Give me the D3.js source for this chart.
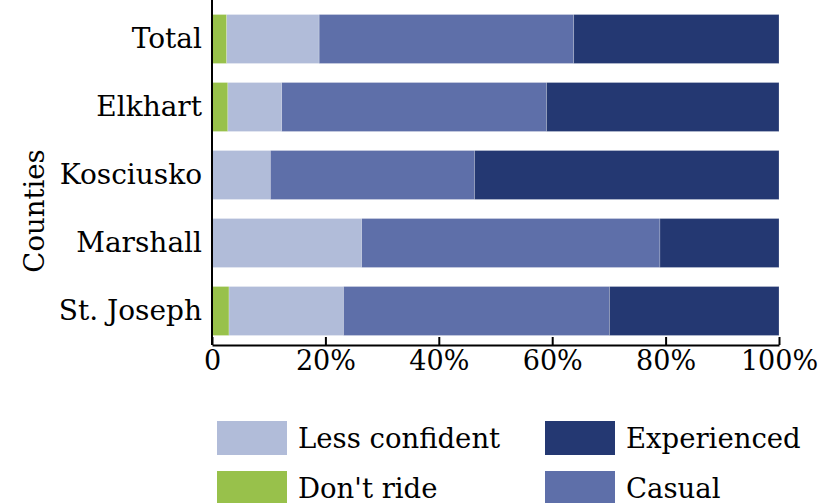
<!DOCTYPE html>
<html>
<head>
<meta charset="utf-8">
<script src="https://cdn.jsdelivr.net/npm/d3@7"></script>
<style>
  html, body { margin: 0; padding: 0; background: #fff; }
  svg text { font-family: "DejaVu Serif", "Liberation Serif", serif; fill: #000; }
</style>
</head>
<body>
<svg id="chart" width="836" height="503"></svg>
<script>
const counties = ["Total", "Elkhart", "Kosciusko", "Marshall", "St. Joseph"];
const seriesNames = ["Don't ride", "Less confident", "Casual", "Experienced"];
const dontRide      = [2.6, 2.8, 0.0, 0.0, 3.0];
const lessConfident = [16.3, 9.5, 10.3, 26.4, 20.2];
const casual        = [44.9, 46.7, 36.0, 52.6, 46.9];
const experienced   = [36.2, 41.0, 53.7, 21.0, 29.9];
const xTickValues = [0, 20, 40, 60, 80, 100];
const xTickLabels = ["0", "20%", "40%", "60%", "80%", "100%"];
const colors = ["#98C14B", "#B1BCD9", "#5E6FA9", "#243872"];
const legendOrder = [["Less confident", "Experienced"], ["Don't ride", "Casual"]];

const rows = counties.map((c, i) => ({
  county: c,
  "Don't ride": dontRide[i],
  "Less confident": lessConfident[i],
  "Casual": casual[i],
  "Experienced": experienced[i]
}));

const svg = d3.select("#chart");
const margin = { left: 212, right: 57, top: 5, bottom: 158 };
const W = 836, H = 503;

const x = d3.scaleLinear().domain([0, 100]).range([margin.left, W - margin.right]);
const y = d3.scaleBand().domain(counties).range([margin.top, H - margin.bottom])
  .paddingInner(0.28).paddingOuter(0.14);
const color = d3.scaleOrdinal().domain(seriesNames).range(colors);

const stack = d3.stack().keys(seriesNames);
const layers = stack(rows);

svg.append("g").selectAll("g").data(layers).join("g")
  .attr("fill", d => color(d.key))
  .selectAll("rect").data(d => d).join("rect")
  .attr("x", d => x(d[0]))
  .attr("y", d => y(d.data.county))
  .attr("width", d => Math.max(0, x(d[1]) - x(d[0])))
  .attr("height", y.bandwidth())
  .attr("stroke", "#ffffff")
  .attr("stroke-opacity", 0.35)
  .attr("stroke-width", 0.6);

// x axis (ticks point up, inside)
const xAxis = svg.append("g")
  .attr("transform", `translate(0,${H - margin.bottom})`)
  .call(d3.axisBottom(x).tickValues(xTickValues)
    .tickFormat((d, i) => xTickLabels[i]).tickSize(-8).tickSizeOuter(0).tickPadding(6));
xAxis.select(".domain").attr("stroke", "#000").attr("stroke-width", 2);
xAxis.selectAll(".tick line").attr("stroke", "#000").attr("stroke-width", 2);
xAxis.selectAll("text").attr("font-size", 27).attr("font-family", "DejaVu Serif").attr("fill", "#000");

// y axis
const yAxis = svg.append("g")
  .attr("transform", `translate(${margin.left},0)`)
  .call(d3.axisLeft(y).tickSize(0).tickPadding(10));
yAxis.select(".domain").attr("stroke", "#000").attr("stroke-width", 2)
  .attr("d", `M0,${margin.top - 5}V${H - margin.bottom}`);
yAxis.selectAll("text").attr("font-size", 28).attr("font-family", "DejaVu Serif").attr("fill", "#000");

// y title
svg.append("text")
  .attr("transform", `translate(44,211) rotate(-90)`)
  .attr("text-anchor", "middle")
  .attr("font-size", 27.5)
  .text("Counties");

// legend
const legCols = [217, 545];
const legRows = [421, 471];
legendOrder.forEach((row, ri) => {
  row.forEach((name, ci) => {
    const g = svg.append("g").attr("transform", `translate(${legCols[ci]},${legRows[ri]})`);
    g.append("rect").attr("width", 70).attr("height", 34).attr("fill", color(name));
    g.append("text").attr("x", 81).attr("y", 27).attr("font-size", 27.5).text(name);
  });
});
</script>
</body>
</html>
